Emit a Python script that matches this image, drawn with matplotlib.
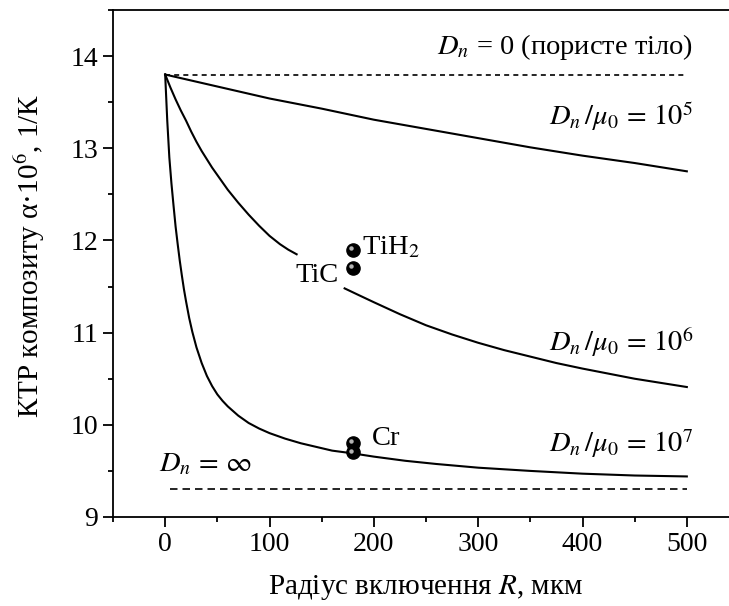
import numpy as np
import matplotlib.pyplot as plt
from matplotlib.ticker import MultipleLocator
from matplotlib.transforms import offset_copy

plt.rcParams['font.family'] = ['Liberation Serif', 'DejaVu Serif']
plt.rcParams['mathtext.fontset'] = 'stix'
plt.rcParams['font.size'] = 20.5

# curves: radius R (мкм) -> CTE alpha*1e6 (1/K)
r_pore = [0, 500]
a_pore = [13.8, 13.8]

r_inf = [5, 500]
a_inf = [9.3, 9.3]

r_1e5 = [0, 50, 100, 150, 200, 250, 300, 350, 400, 450, 500]
a_1e5 = [13.80, 13.67, 13.54, 13.43, 13.31, 13.21, 13.11, 13.01, 12.92, 12.84, 12.75]

# gap in the 1e6 curve where the TiC label sits
r_1e6 = [0, 5, 10, 15, 20, 25, 30, 35, 40, 45, 50, 55, 60, 70, 80, 90, 100, 110, 118, 126,
         np.nan, 172, 185, 200, 225, 250, 275, 300, 325, 350, 375, 400, 450, 500]
a_1e6 = [13.80, 13.66, 13.53, 13.41, 13.30, 13.18, 13.07, 12.97, 12.88, 12.79, 12.71, 12.63,
         12.55, 12.41, 12.28, 12.16, 12.05, 11.96, 11.90, 11.85,
         np.nan, 11.48, 11.41, 11.33, 11.20, 11.08, 10.98, 10.89, 10.81, 10.74, 10.67, 10.61,
         10.50, 10.41]

r_1e7 = [0, 1, 2, 3, 4, 5, 6, 7, 8, 10, 12, 14, 16, 18, 20, 23, 26, 30, 35, 40, 45, 50, 55,
         60, 70, 80, 90, 100, 115, 130, 145, 160, 180, 200, 230, 260, 300, 350, 400, 450, 500]
a_1e7 = [13.80, 13.55, 13.30, 13.10, 12.90, 12.76, 12.62, 12.50, 12.38, 12.15, 11.96, 11.78,
         11.62, 11.47, 11.34, 11.16, 11.01, 10.84, 10.67, 10.53, 10.42, 10.33, 10.26, 10.20,
         10.10, 10.02, 9.96, 9.91, 9.85, 9.80, 9.76, 9.72, 9.69, 9.655, 9.61, 9.575, 9.535,
         9.50, 9.47, 9.45, 9.44]

# experimental points
exp_names = ['TiH$_2$', 'TiC', 'Cr', '']
exp_r = [180, 180, 180, 180]
exp_a = [11.9, 11.7, 9.8, 9.7]

fig = plt.figure(figsize=(7.29, 6.06), dpi=100)
ax = fig.add_axes([113 / 729, 1 - 517 / 606, 626 / 729, 507 / 606])

ax.plot(r_pore, a_pore, color='black', lw=1.2, dashes=(3, 2.5))
ax.plot(r_inf, a_inf, color='black', lw=1.2, dashes=(4.5, 3))
ax.plot(r_1e5, a_1e5, color='black', lw=1.5)
ax.plot(r_1e6, a_1e6, color='black', lw=1.5)
ax.plot(r_1e7, a_1e7, color='black', lw=1.5)

# dark balls with a small highlight
ax.plot(exp_r, exp_a, 'o', color='black', ms=9.5, zorder=5)
hl = offset_copy(ax.transData, fig=fig, x=-1.3, y=1.3, units='points')
ax.plot(exp_r, exp_a, 'o', color='#c8c8c8', ms=3.2, mec='none', alpha=0.9, transform=hl, zorder=6)

ax.text(506, 14.02, r'$D_n$ = 0 (пористе тіло)', ha='right', va='baseline')
ax.text(506, 13.25, r'$D_n\,/\mu_0\,=\,10^5$', ha='right', va='baseline')
ax.text(506, 10.80, r'$D_n\,/\mu_0\,=\,10^6$', ha='right', va='baseline')
ax.text(506, 9.70, r'$D_n\,/\mu_0\,=\,10^7$', ha='right', va='baseline')
ax.text(-6, 9.50, r'$D_n\,=\,\infty$', ha='left', va='baseline')
ax.text(166, 11.55, exp_names[1], ha='right', va='baseline')
ax.text(189, 11.85, exp_names[0], ha='left', va='baseline')
ax.text(198, 9.78, exp_names[2], ha='left', va='baseline')

ax.set_xlim(-50, 550)
ax.set_ylim(9, 14.5)
ax.xaxis.set_major_locator(MultipleLocator(100))
ax.xaxis.set_minor_locator(MultipleLocator(50))
ax.yaxis.set_major_locator(MultipleLocator(1))
ax.yaxis.set_minor_locator(MultipleLocator(0.5))
ax.tick_params(which='both', direction='out', width=1.3, top=False, right=False, labelsize=20)
ax.tick_params(which='major', length=7)
ax.tick_params(which='minor', length=3.5)
for sp in ax.spines.values():
    sp.set_linewidth(1.3)

ax.set_xlabel('Радіус включення $R$, мкм', fontsize=21, labelpad=12)
ax.set_ylabel('КТР композиту α·10$^6$, 1/К', fontsize=21)
ax.yaxis.set_label_coords(-0.105, 0.515)

fig.savefig('out.png', dpi=100)
